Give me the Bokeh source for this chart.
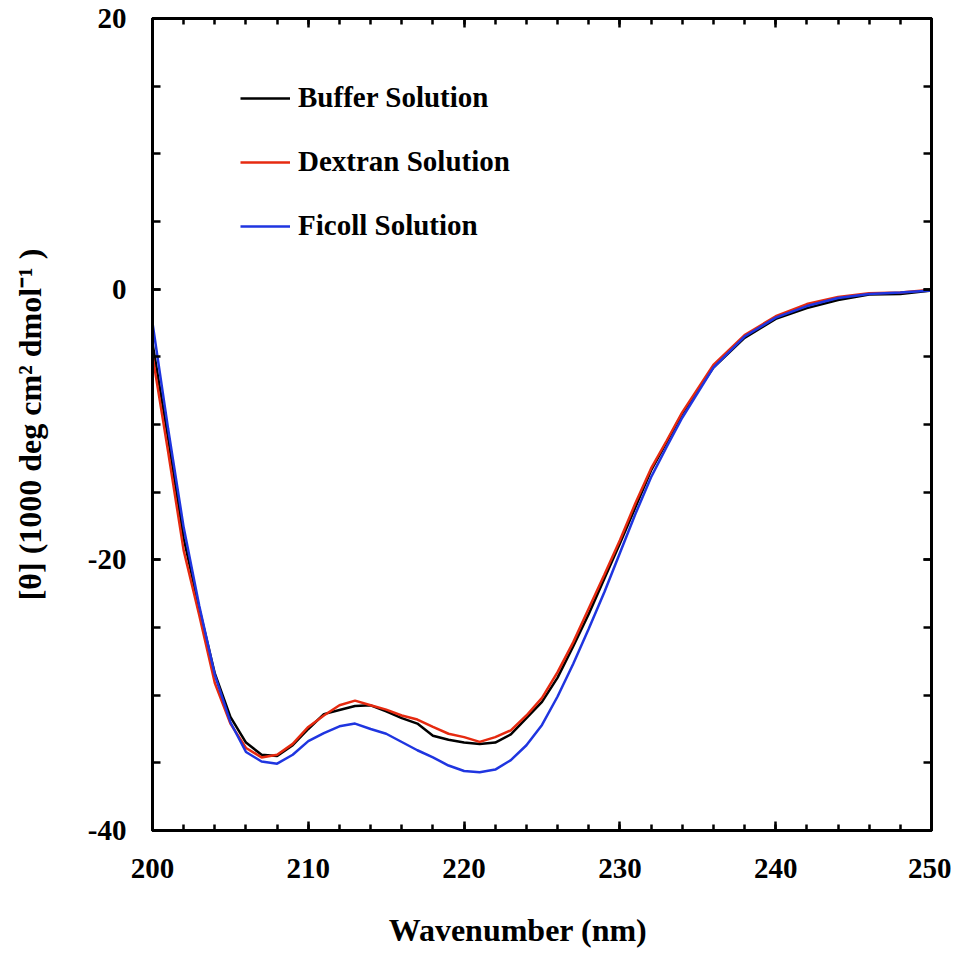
from bokeh.plotting import figure
from bokeh.models import (Range1d, LinearAxis, FixedTicker, Legend, LegendItem,
                          CustomJSTickFormatter)
from bokeh.embed import file_html
from bokeh.resources import INLINE

wavelength = [200, 201, 202, 203, 204, 205, 206, 207, 208, 209, 210, 211, 212, 213, 214,
              215, 216, 217, 218, 219, 220, 221, 222, 223, 224, 225, 226, 227, 228, 229,
              230, 231, 232, 233, 234, 236, 238, 240, 242, 244, 246, 248, 250]

buffer_sol = [-4.0, -11.0, -18.4, -23.6, -28.4, -31.6, -33.5, -34.4, -34.5, -33.7, -32.5,
              -31.4, -31.1, -30.8, -30.75, -31.2, -31.7, -32.1, -33.0, -33.3, -33.5, -33.6,
              -33.5, -32.9, -31.7, -30.5, -28.7, -26.4, -24.0, -21.4, -18.8, -16.1, -13.4,
              -11.3, -9.2, -5.8, -3.6, -2.2, -1.4, -0.8, -0.4, -0.35, -0.1]

dextran_sol = [-4.9, -12.0, -19.3, -24.1, -29.1, -32.1, -33.9, -34.6, -34.4, -33.6, -32.35,
               -31.5, -30.75, -30.4, -30.75, -31.07, -31.5, -31.8, -32.35, -32.85, -33.1,
               -33.45, -33.1, -32.6, -31.5, -30.2, -28.3, -26.1, -23.6, -21.1, -18.55, -15.8,
               -13.25, -11.2, -9.1, -5.6, -3.4, -2.0, -1.1, -0.57, -0.3, -0.25, -0.05]

ficoll_sol = [-2.5, -10.3, -17.6, -23.4, -28.5, -32.0, -34.2, -34.9, -35.06, -34.4, -33.4,
              -32.8, -32.3, -32.1, -32.5, -32.85, -33.46, -34.07, -34.6, -35.2, -35.6, -35.7,
              -35.5, -34.8, -33.7, -32.2, -30.1, -27.7, -25.1, -22.4, -19.5, -16.6, -13.9,
              -11.65, -9.5, -5.8, -3.5, -2.1, -1.25, -0.65, -0.35, -0.25, -0.1]

series_names = ["Buffer Solution", "Dextran Solution", "Ficoll Solution"]
series_colors = ["#000000", "#e62a10", "#1f35e0"]

x_major = [200, 210, 220, 230, 240, 250]
x_minor = list(range(200, 251, 2))
y_major = [-40, -20, 0, 20]
y_minor = list(range(-40, 21, 5))
y_labels = {-40: "-40", -20: "-20", 0: "0", 20: "20"}

FONT = "Liberation Serif"

p = figure(width=951, height=950, output_backend="svg", toolbar_location=None,
           x_range=Range1d(200, 250), y_range=Range1d(-40, 20),
           x_axis_location=None, y_axis_location=None,
           min_border_left=152, min_border_right=20, min_border_top=18, min_border_bottom=120)
p.grid.visible = False
p.outline_line_color = "black"
p.outline_line_width = 3
p.background_fill_color = "white"
p.border_fill_color = "white"

renderers = []
for ys, c in zip([buffer_sol, dextran_sol, ficoll_sol], series_colors):
    r = p.line(wavelength, ys, line_color=c, line_width=2.5)
    renderers.append(r)

def make_axis(kind, show_labels):
    ax = LinearAxis()
    if kind == "x":
        ax.ticker = FixedTicker(ticks=x_major, minor_ticks=x_minor)
        ax.major_tick_in = 9
        ax.minor_tick_in = 6
    else:
        ax.ticker = FixedTicker(ticks=y_major, minor_ticks=y_minor)
        ax.major_tick_in = 8
        ax.minor_tick_in = 8
    ax.major_tick_out = 0
    ax.minor_tick_out = 0
    ax.axis_line_width = 3
    ax.major_tick_line_width = 2.5
    ax.minor_tick_line_width = 2.5
    ax.major_label_text_font = FONT
    ax.major_label_text_font_style = "bold"
    ax.major_label_text_font_size = "29px"
    ax.major_label_text_color = "black"
    if not show_labels:
        ax.formatter = CustomJSTickFormatter(code="return ''")
        ax.major_label_standoff = 0
    return ax

xb = make_axis("x", True)
xb.major_label_standoff = 28
xb.axis_label = "Wavenumber (nm)" + "\u00a0" * 6
xb.axis_label_text_font = FONT
xb.axis_label_text_font_style = "bold"
xb.axis_label_text_font_size = "32px"
xb.axis_label_text_color = "black"
xb.axis_label_standoff = 31
p.add_layout(xb, "below")

yl = make_axis("y", True)
yl.major_label_overrides = y_labels
yl.major_label_standoff = 26
yl.axis_label = "[\u03b8] (1000 deg cm\u00b2 dmol\u207b\u00b9 )"
yl.axis_label_text_font = FONT
yl.axis_label_text_font_style = "bold"
yl.axis_label_text_font_size = "32px"
yl.axis_label_text_color = "black"
yl.axis_label_standoff = 37
p.add_layout(yl, "left")

xt = make_axis("x", False)
p.add_layout(xt, "above")
yr = make_axis("y", False)
p.add_layout(yr, "right")

legend = Legend(items=[LegendItem(label=n, renderers=[r]) for n, r in zip(series_names, renderers)],
                location=(88, 588), orientation="vertical",
                glyph_width=50, glyph_height=30, label_height=30, spacing=31,
                label_standoff=8, padding=0, margin=0,
                border_line_color=None, background_fill_alpha=0,
                label_text_font=FONT, label_text_font_style="bold",
                label_text_font_size="29px", label_text_color="black")
p.add_layout(legend, "center")

open("out.html", "w").write(file_html(p, INLINE))
